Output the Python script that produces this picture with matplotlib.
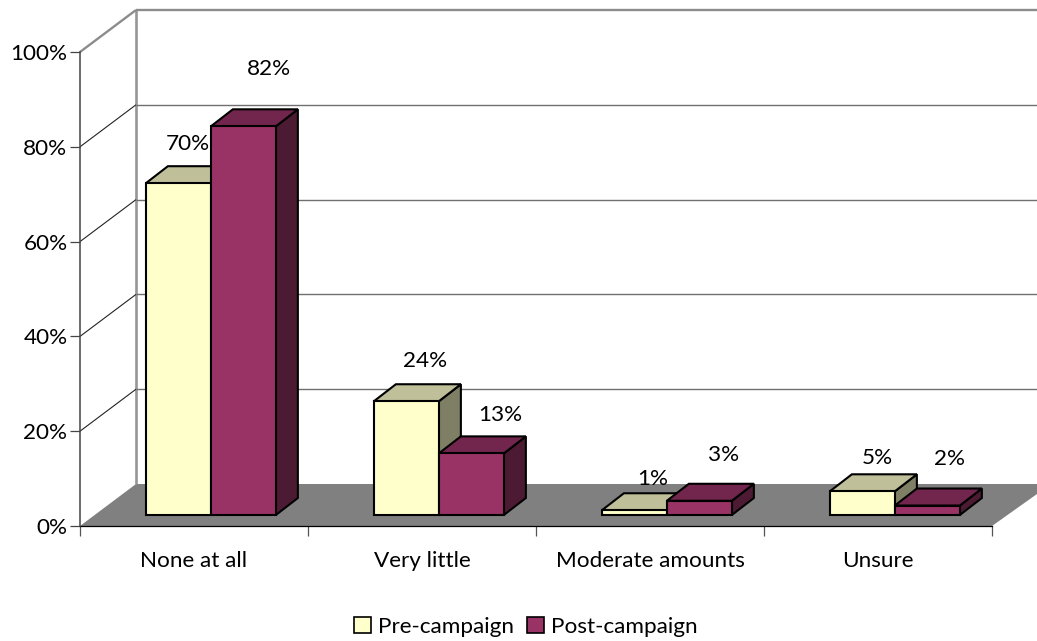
# -*- coding: utf-8 -*-
import matplotlib
matplotlib.use("Agg")
import matplotlib.pyplot as plt
from matplotlib.patches import Patch, Polygon
from matplotlib.transforms import Affine2D

plt.rcParams['font.family'] = ['Lato', 'DejaVu Sans']

# data
categories = ['None at all', 'Very little', 'Moderate amounts', 'Unsure']
pre_campaign = [70, 24, 1, 5]
post_campaign = [82, 13, 3, 2]
y_ticks = [0, 20, 40, 60, 80, 100]

# where the labels sit relative to the top of their bar, in pixels
pre_label_offset = [(9, 39), (19, 40), (18, 31), (15, 33)]
post_label_offset = [(26, 57), (29, 38), (24, 46), (22, 47)]

pre_colors = ('#FFFFCC', '#BFBF99', '#7F7F66')
post_colors = ('#993366', '#73264D', '#4D1A33')

font_size = 16.2

W, H = 1037, 641
fig = plt.figure(figsize=(W / 100, H / 100), dpi=100)
ax = fig.add_axes([80 / W, 1 - 526 / H, 912 / W, 474 / H])
ax.set_xlim(0, 4)
ax.set_ylim(0, 100)
ax.patch.set_visible(False)


def px(x, y, dx=0, dy=0):
	# data position plus a shift in pixels, for the fake depth
	p = ax.transData.transform((x, y))
	return (p[0] + dx, p[1] + dy)


def flat(points, **kw):
	poly = Polygon(points, closed=True, clip_on=False, **kw)
	poly.set_transform(Affine2D())
	ax.add_patch(poly)


def wall_line(a, b, color, lw, z=1):
	ax.plot([a[0], b[0]], [a[1], b[1]], color=color, lw=lw, transform=Affine2D(),
		clip_on=False, zorder=z, solid_capstyle='butt')


# floor and back wall
back = (56, 42)
flat([px(0, 0), px(0, 0, *back), (W, px(0, 0, *back)[1]), (W, px(4, 0)[1] + 32), px(4, 0)],
	facecolor='#808080', edgecolor='none', zorder=1)
wall_line(px(0, 0, *back), px(0, 100, *back), '#969696', 1.9)
for t in y_ticks[1:]:
	top = t == 100
	wall_line(px(0, t, *back), (W, px(0, t, *back)[1]), '#8c8c8c' if top else '#707070', 1.7 if top else 1.0)
	wall_line(px(0, t), px(0, t, *back), '#8c8c8c' if top else '#222222', 1.7 if top else 0.8)

# bars
bar_w = 0.285
bar_x = 0.289
lift = 11
depth = (22, 17)


def draw_bar(x, v, colors, z):
	x2 = x + bar_w
	ax.bar(x, v, width=bar_w, align='edge', color=colors[0], edgecolor='black', lw=1.5,
		transform=ax.transData + Affine2D().translate(0, lift), clip_on=False, zorder=z + 2)
	a = px(x, v, 0, lift)
	b = px(x2, v, 0, lift)
	c = px(x2, 0, 0, lift)
	shift = lambda p: (p[0] + depth[0], p[1] + depth[1])
	flat([b, c, shift(c), shift(b)], facecolor=colors[2], edgecolor='black', lw=1.5, zorder=z)
	flat([a, b, shift(b), shift(a)], facecolor=colors[1], edgecolor='black', lw=1.5, zorder=z + 1)


for i in range(len(categories)):
	draw_bar(i + bar_x, pre_campaign[i], pre_colors, 3)
	draw_bar(i + bar_x + bar_w, post_campaign[i], post_colors, 6)
	for x, v, off in [(i + bar_x, pre_campaign[i], pre_label_offset[i]),
			(i + bar_x + bar_w, post_campaign[i], post_label_offset[i])]:
		ax.annotate('%d%%' % v, xy=(x + bar_w / 2, v), xytext=(off[0], off[1] + lift),
			textcoords='offset pixels', ha='center', va='center', fontsize=font_size,
			color='black', zorder=10, annotation_clip=False)

# axes
for s in ['top', 'right']:
	ax.spines[s].set_visible(False)
ax.spines['left'].set_color('#444444')
ax.spines['left'].set_linewidth(1.1)
ax.spines['bottom'].set_color('black')
ax.spines['bottom'].set_linewidth(0.9)
ax.spines['bottom'].set_zorder(2)
ax.set_yticks(y_ticks)
ax.set_yticklabels(['%d%%' % t for t in y_ticks], fontsize=font_size)
ax.tick_params(axis='y', length=7, width=0.9, color='#444444', pad=2)
ax.set_xticks(range(5))
ax.set_xticklabels([])
ax.set_xticks([i + 0.5 for i in range(4)], categories, minor=True, fontsize=font_size)
ax.tick_params(axis='x', which='major', length=7, width=0.9, color='#555555')
ax.tick_params(axis='x', which='minor', length=0, pad=18)

handles = [Patch(facecolor=pre_colors[0], edgecolor='black', lw=1.2, label='Pre-campaign'),
	Patch(facecolor=post_colors[0], edgecolor='black', lw=1.2, label='Post-campaign')]
fig.legend(handles=handles, loc='center', bbox_to_anchor=(526 / W, 1 - 627 / H), ncol=2, frameon=False,
	fontsize=font_size, handlelength=0.75, handleheight=0.75, handletextpad=0.3, columnspacing=0.6,
	borderpad=0)

fig.savefig('out.png', dpi=100)
